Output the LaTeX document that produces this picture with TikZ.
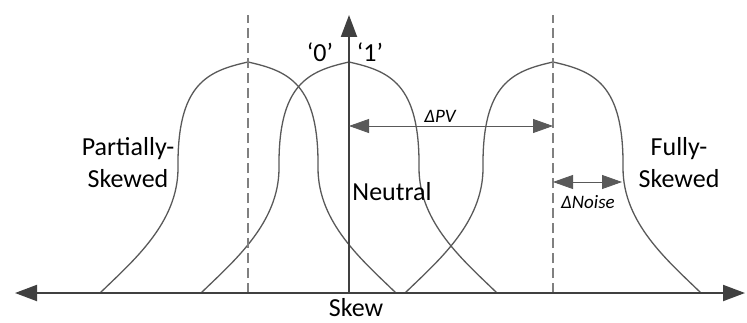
\documentclass[tikz,border=0pt]{standalone}
\usepackage{fontspec}
\setmainfont{Carlito}
\usetikzlibrary{arrows.meta}

% one bell-shaped distribution around a given centre
\newcommand{\bellcurve}[1]{(#1-148,0) .. controls (#1-115,32) and (#1-70,70) .. (#1-70,125)
  .. controls (#1-71,210) and (#1-40,222) .. (#1,231)
  .. controls (#1+40,222) and (#1+71,210) .. (#1+70,125)
  .. controls (#1+70,70) and (#1+115,32) .. (#1+148,0)}

\begin{document}
\begin{tikzpicture}[x=0.5pt, y=0.5pt,
    axisline/.style={draw=black!75, line width=1pt, -{Triangle[length=11pt, width=8pt]}},
    bell/.style={draw=black!65, line width=0.65pt},
    guide/.style={draw=black!50, line width=0.6pt, dash pattern=on 5pt off 2.5pt},
    gap/.style={draw=black!65, line width=0.4pt, {Triangle[length=10pt, width=7pt]}-{Triangle[length=10pt, width=7pt]}},
    lbl/.style={font=\fontsize{13}{16}\selectfont, align=center, inner sep=0pt},
    small/.style={font=\fontsize{9.5}{11}\selectfont\itshape, inner sep=0pt}]
  \useasboundingbox (0,-29) rectangle (747,293);

  % Koordinaten
  \coordinate (O) at (349,0);
  \coordinate (xl) at (15,0);
  \coordinate (xr) at (745,0);
  \coordinate (yt) at (349,278);
  \coordinate (cp) at (248,0);
  \coordinate (cf) at (553,0);
  \coordinate (cpt) at (248,278);
  \coordinate (cft) at (553,278);
  \coordinate (pvl) at (349,167);
  \coordinate (pvr) at (553,167);
  \coordinate (nl) at (553,111);
  \coordinate (nr) at (622,111);

  % Verteilungen
  \draw[bell] \bellcurve{248};
  \draw[bell] \bellcurve{349};
  \draw[bell] \bellcurve{553};

  % Gestrichelte Mittellinien
  \draw[guide] (cp) -- (cpt);
  \draw[guide] (cf) -- (cft);

  % Achsen
  \draw[axisline] (O) -- (xl);
  \draw[axisline] (O) -- (xr);
  \draw[axisline] (O) -- (yt);

  % Abstaende
  \draw[gap] (pvl) -- (pvr);
  \draw[gap] (nl) -- (nr);

  % Beschriftungen
  \node[lbl] (partial) at (128,130) {Partially-\\Skewed};
  \node[lbl] (fully) at (679,130) {Fully-\\Skewed};
  \node[lbl] (neutral) at (392,101) {Neutral};
  \node[lbl] (zero) at (320,241) {‘0’};
  \node[lbl] (one) at (370,241) {‘1’};
  \node[lbl] (skew) at (356,-15) {Skew};
  \node[small] (dpv) at (440,177) {ΔPV};
  \node[small] (dnoise) at (588,91) {ΔNoise};
\end{tikzpicture}
\end{document}
